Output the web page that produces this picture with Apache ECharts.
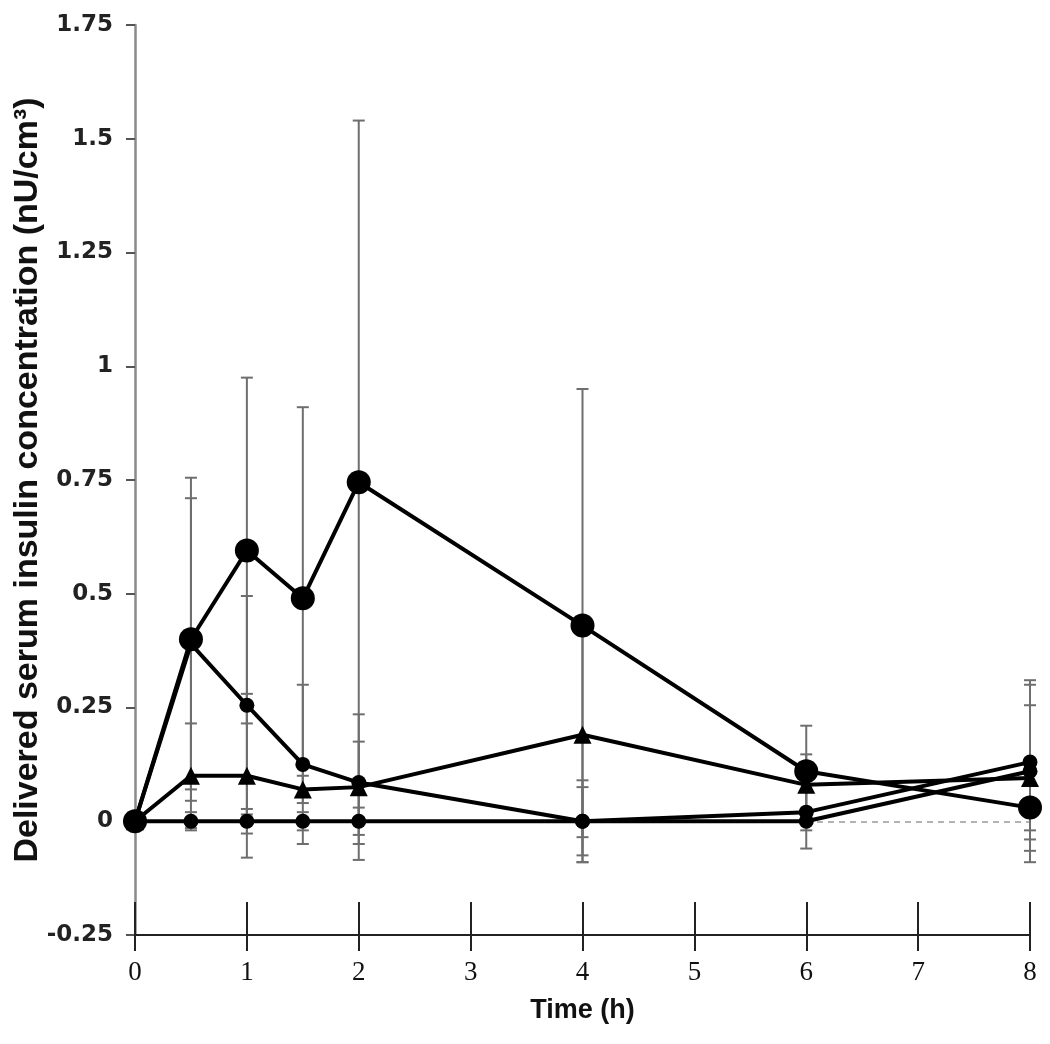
<!DOCTYPE html>
<html>
<head>
<meta charset="utf-8">
<script src="https://cdn.jsdelivr.net/npm/echarts@6/dist/echarts.min.js"></script>
<style>
html,body{margin:0;padding:0;background:#fff;}
#chart{width:1050px;height:1044px;}
</style>
</head>
<body>
<div id="chart"></div>
<script>
// ---- data ----
const times = [0, 0.5, 1, 1.5, 2, 4, 6, 8];
const xTickLabels = ['0','1','2','3','4','5','6','7','8'];
const yTickLabels = ['-0.25','0','0.25','0.5','0.75','1','1.25','1.5','1.75'];

const seriesLargeCircle = [0, 0.40, 0.595, 0.49, 0.745, 0.43, 0.11, 0.03];
const errLargeCircle    = [0, 0.355, 0.38, 0.42, 0.795, 0.52, 0.10, 0.05];

const seriesSmallCircle = [0, 0.39, 0.255, 0.125, 0.085, 0, 0.02, 0.13];
const errSmallCircle    = [0, 0.32, 0.24, 0.175, 0.09, 0.075, 0.08, 0.17];

const seriesTriangle = [0, 0.10, 0.10, 0.07, 0.075, 0.19, 0.08, 0.095];
const errTriangle    = [0, 0.115, 0.18, 0.03, 0.16, 0.225, 0.067, 0.16];

const seriesZero = [0, 0, 0, 0, 0, 0, 0, 0.11];
const errZero    = [0, 0.02, 0.027, 0.02, 0.03, 0.09, 0.02, 0.20];

// ---- helpers ----
function pairs(vals){ return times.map((t,i)=>[t, vals[i]]); }
function errData(vals, errs){
  const out = [];
  times.forEach((t,i)=>{ if(errs[i] > 0) out.push([t, vals[i]-errs[i], vals[i]+errs[i]]); });
  return out;
}
function errSeries(vals, errs){
  return {
    type:'custom', z:1, silent:true,
    data: errData(vals, errs),
    encode:{x:0, y:[1,2]},
    renderItem:function(params, api){
      const x = api.value(0), lo = api.value(1), hi = api.value(2);
      const p1 = api.coord([x, hi]), p2 = api.coord([x, lo]);
      const cw = 6;
      const st = {stroke:'#6e6e6e', lineWidth:2};
      return {type:'group', children:[
        {type:'line', shape:{x1:p1[0],y1:p1[1],x2:p2[0],y2:p2[1]}, style:st},
        {type:'line', shape:{x1:p1[0]-cw,y1:p1[1],x2:p1[0]+cw,y2:p1[1]}, style:st},
        {type:'line', shape:{x1:p2[0]-cw,y1:p2[1],x2:p2[0]+cw,y2:p2[1]}, style:st}
      ]};
    }
  };
}
function lineSeries(vals, symbol, size, extra){
  return Object.assign({
    type:'line', z:3, data:pairs(vals), symbol:symbol, symbolSize:size,
    showAllSymbol:true, clip:false,
    lineStyle:{color:'#000', width:4},
    itemStyle:{color:'#000', borderColor:'#000', borderWidth:0},
    emphasis:{disabled:true}, animation:false
  }, extra||{});
}

const chart = echarts.init(document.getElementById('chart'), null, {renderer:'canvas'});
const nameFont = {fontFamily:"'Liberation Sans', Arial, sans-serif", fontWeight:'bold', color:'#111'};

chart.setOption({
  animation:false,
  backgroundColor:'#fff',
  grid:{left:135, right:20, top:25, bottom:109, containLabel:false, outerBoundsMode:'none'},
  xAxis:[{
    type:'value', min:0, max:8, interval:1, position:'bottom',
    name:'Time (h)', nameLocation:'middle', nameGap:62, nameMoveOverlap:false,
    nameTextStyle:Object.assign({fontSize:27}, nameFont),
    axisLine:{onZero:false, lineStyle:{color:'#222', width:2}},
    axisTick:{inside:true, length:33, lineStyle:{color:'#222', width:2}},
    axisLabel:{margin:24, fontFamily:'Liberation Serif', fontSize:27, color:'#111',
      formatter:function(v){ return xTickLabels[Math.round(v)]; }},
    splitLine:{show:false}
  },{
    type:'value', min:0, max:8, interval:1, position:'bottom',
    axisLine:{onZero:false, show:false},
    axisTick:{inside:false, length:16, lineStyle:{color:'#222', width:2}},
    axisLabel:{show:false}, splitLine:{show:false}
  }],
  yAxis:{
    type:'value', min:-0.25, max:1.75, interval:0.25,
    name:'Delivered serum insulin concentration (nU/cm³)', nameLocation:'middle', nameGap:90,
    nameRotate:90, nameMoveOverlap:false,
    nameTextStyle:Object.assign({fontSize:34}, nameFont),
    axisLine:{lineStyle:{color:'#8a8a8a', width:2.5}},
    axisTick:{inside:false, length:9, lineStyle:{color:'#555', width:2}},
    axisLabel:{margin:22, fontFamily:'DejaVu Sans', fontWeight:'bold', fontSize:23, color:'#222',
      formatter:function(v){ const i = Math.round((v + 0.25) / 0.25); return yTickLabels[i]; }},
    splitLine:{show:false}
  },
  series:[
    errSeries(seriesLargeCircle, errLargeCircle),
    errSeries(seriesSmallCircle, errSmallCircle),
    errSeries(seriesTriangle, errTriangle),
    errSeries(seriesZero, errZero),
    lineSeries(seriesZero, 'circle', 15, {
      markLine:{silent:true, symbol:'none', label:{show:false},
        lineStyle:{color:'#9a9a9a', type:[6,5], width:1.5},
        data:[{yAxis:0}], z:0}
    }),
    lineSeries(seriesTriangle, 'triangle', 18),
    lineSeries(seriesSmallCircle, 'circle', 15),
    lineSeries(seriesLargeCircle, 'circle', 24)
  ]
});
</script>
</body>
</html>
